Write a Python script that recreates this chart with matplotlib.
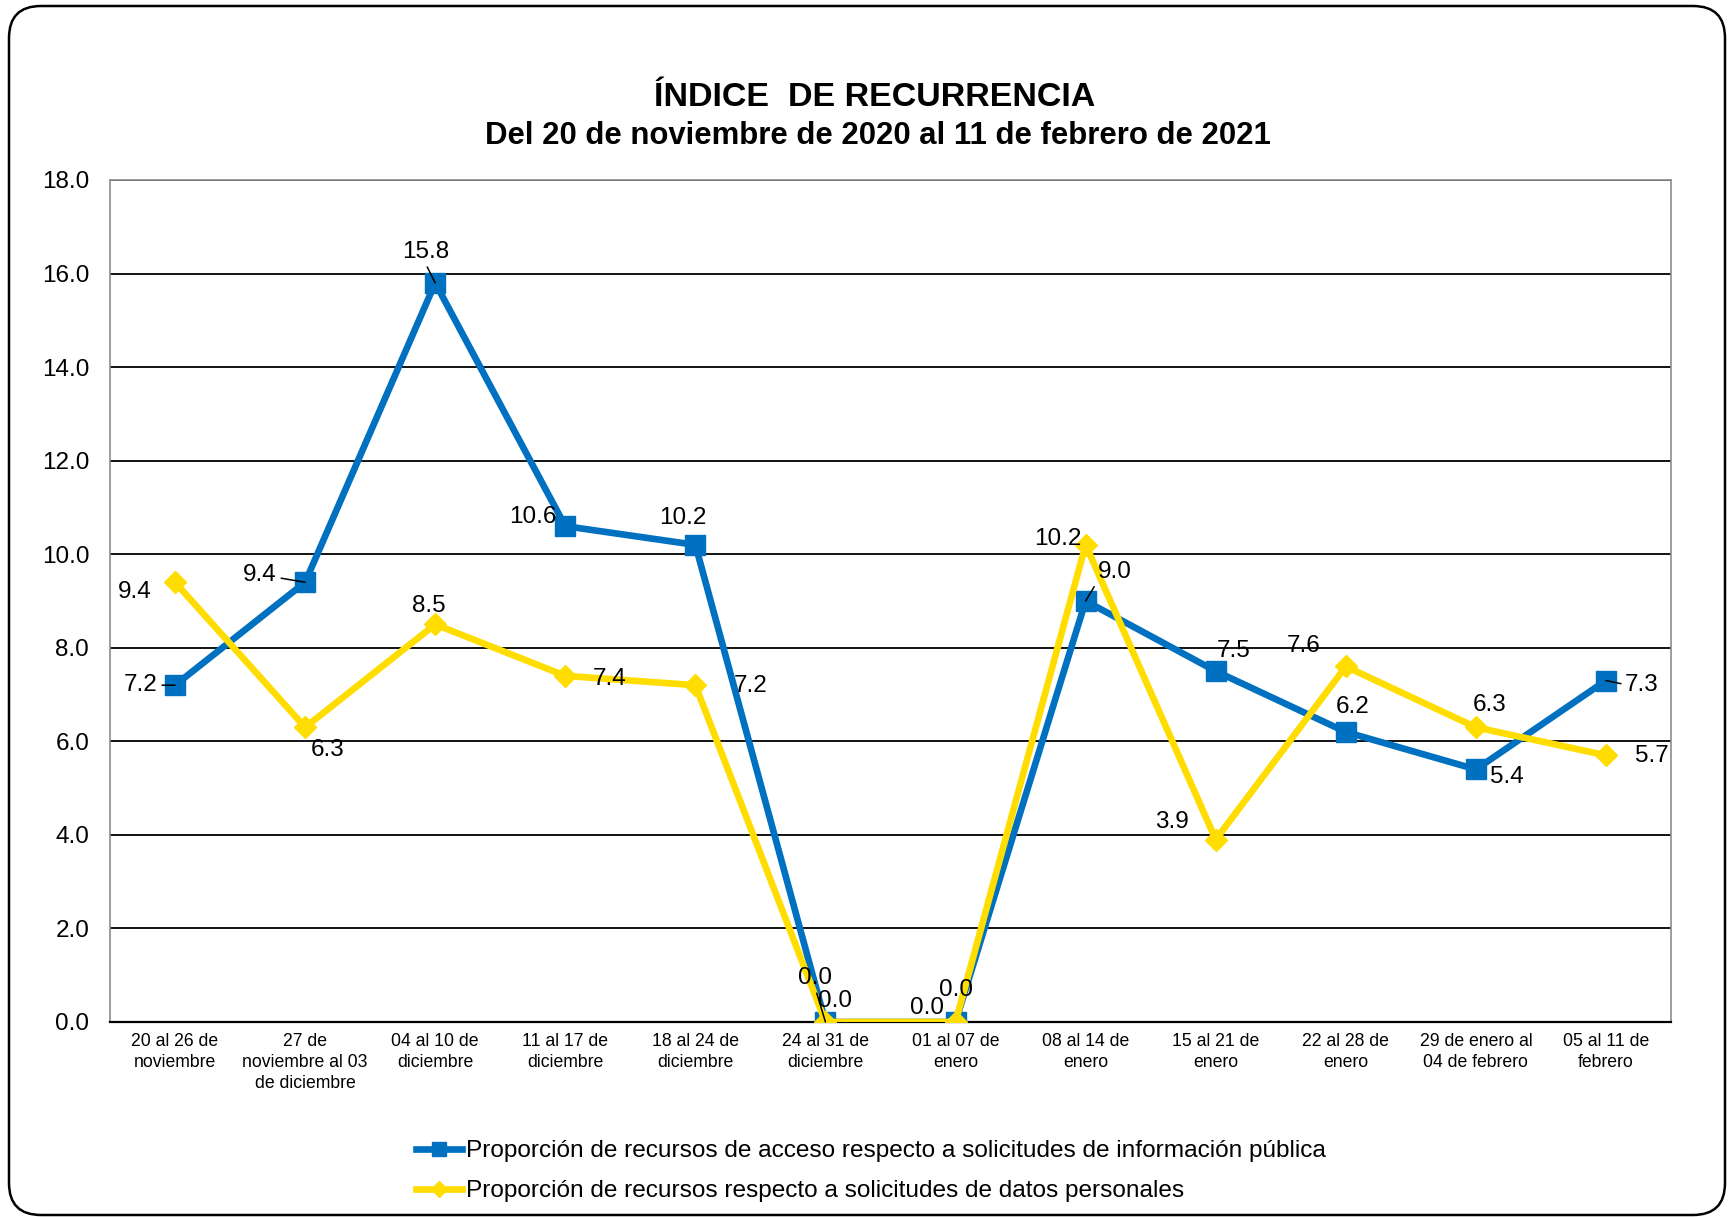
import matplotlib
matplotlib.use("Agg")
import matplotlib.pyplot as plt
from matplotlib.patches import FancyBboxPatch
from matplotlib.transforms import IdentityTransform
from matplotlib.lines import Line2D

plt.rcParams['font.family'] = ['Liberation Sans', 'DejaVu Sans']

categories = [
    "20 al 26 de\nnoviembre",
    "27 de\nnoviembre al 03\nde diciembre",
    "04 al 10 de\ndiciembre",
    "11 al 17 de\ndiciembre",
    "18 al 24 de\ndiciembre",
    "24 al 31 de\ndiciembre",
    "01 al 07 de\nenero",
    "08 al 14 de\nenero",
    "15 al 21 de\nenero",
    "22 al 28 de\nenero",
    "29 de enero al\n04 de febrero",
    "05 al 11 de\nfebrero",
]
acceso = [7.2, 9.4, 15.8, 10.6, 10.2, 0.0, 0.0, 9.0, 7.5, 6.2, 5.4, 7.3]
datos = [9.4, 6.3, 8.5, 7.4, 7.2, 0.0, 0.0, 10.2, 3.9, 7.6, 6.3, 5.7]
yticks = [0, 2, 4, 6, 8, 10, 12, 14, 16, 18]

label_acceso = "Proporción de recursos de acceso respecto a solicitudes de información pública"
label_datos = "Proporción de recursos respecto a solicitudes de datos personales"

BLUE = "#0070C0"
YELLOW = "#FFDD00"

W, H = 1729, 1217
fig = plt.figure(figsize=(W / 100, H / 100), dpi=100)
ax = fig.add_axes([110 / W, 1 - 1022 / H, (1671 - 110) / W, (1022 - 180) / H])

x = list(range(len(categories)))
ax.plot(x, acceso, color=BLUE, lw=4.8, marker='s', markersize=14, zorder=3,
        label=label_acceso)
ax.plot(x, datos, color=YELLOW, lw=4.8, marker='D', markersize=11.5, zorder=4,
        label=label_datos)

ax.set_xlim(-0.5, len(categories) - 0.5)
ax.set_ylim(0, 18)
ax.set_yticks(yticks)
ax.set_yticklabels([f"{v:.1f}" for v in yticks], fontsize=17.5)
ax.set_xticks(x)
ax.set_xticklabels(categories, fontsize=12.7, linespacing=1.3)
ax.tick_params(axis='y', length=0, pad=15)
ax.tick_params(axis='x', length=0, pad=8)
ax.yaxis.grid(True, color='black', lw=1.3)
ax.set_axisbelow(True)
for s in ['top', 'left', 'right']:
    ax.spines[s].set_color('#8c8c8c')
    ax.spines[s].set_linewidth(1.2)
ax.spines['bottom'].set_color('black')
ax.spines['bottom'].set_linewidth(1.6)

# label offsets (pixels) and leader relpos
off_acc = [(-34, 0), (-45, 7), (-10, 31), (-32, 9), (-13, 27), (10, 21),
           (0, 32), (29, 29), (18, 20), (7, 25), (31, -8), (36, -4)]
lead_acc = [(1, 0.5), (1, 0.4), (0.5, 0), None, None, None,
            None, (0, 0.1), None, None, None, (0, 0.5)]
off_dat = [(-40, -10), (23, -23), (-6, 18), (44, -3), (55, -1), (-10, 44),
           (-29, 14), (-28, 6), (-44, 18), (-42, 20), (14, 22), (46, -1)]
lead_dat = [None, None, None, None, None, (0.5, 0),
            None, None, None, None, None, None]


def put_labels(vals, offs, leads):
    for i, (v, o, l) in enumerate(zip(vals, offs, leads)):
        kw = {}
        if l is not None:
            kw['arrowprops'] = dict(arrowstyle='-', color='black', lw=1.1,
                                    relpos=l, shrinkA=1, shrinkB=0)
        ax.annotate(f"{v:.1f}", (i, v), xytext=o, textcoords='offset pixels',
                    ha='center', va='center', fontsize=17.5, zorder=6, **kw)


put_labels(acceso, off_acc, lead_acc)
put_labels(datos, off_dat, lead_dat)

fig.text(0.506, 1 - 98 / H, "ÍNDICE  DE RECURRENCIA", ha='center', va='center',
         fontsize=24.5, fontweight='bold')
fig.text(0.5075, 1 - 136 / H, "Del 20 de noviembre de 2020 al 11 de febrero de 2021",
         ha='center', va='center', fontsize=22.4, fontweight='bold')

handles = [Line2D([], [], color=BLUE, lw=4.8, marker='s', markersize=10),
           Line2D([], [], color=YELLOW, lw=4.8, marker='D', markersize=8)]
fig.legend(handles, [label_acceso, label_datos], loc='upper left',
           bbox_to_anchor=(416 / W, 1 - 1140 / H), frameon=False,
           fontsize=17.6, handlelength=1.9, handletextpad=0.15,
           labelspacing=0.74, borderpad=0, borderaxespad=0)

border = FancyBboxPatch((9, 2), 1716, H - 8,
                        boxstyle="round,pad=0,rounding_size=32",
                        transform=IdentityTransform(), fill=False,
                        edgecolor='black', lw=1.8, zorder=0)
fig.patches.append(border)

fig.savefig("out.png", dpi=100)
